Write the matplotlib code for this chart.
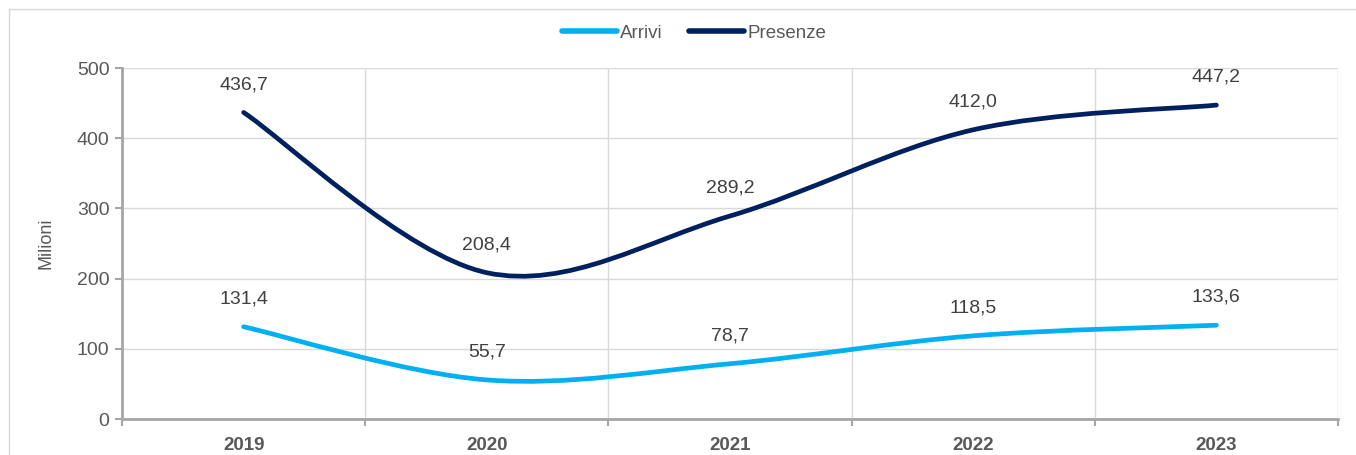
import matplotlib
matplotlib.use("Agg")
import matplotlib.pyplot as plt
from matplotlib.path import Path
from matplotlib.patches import PathPatch
from matplotlib.lines import Line2D
import numpy as np

plt.rcParams['font.family'] = ['Liberation Sans Narrow', 'Liberation Sans', 'DejaVu Sans']

YEARS = ['2019', '2020', '2021', '2022', '2023']
ARRIVI = [131.4, 55.7, 78.7, 118.5, 133.6]
PRESENZE = [436.7, 208.4, 289.2, 412.0, 447.2]
SERIES_NAMES = ['Arrivi', 'Presenze']
COLORS = ['#00B0F0', '#002060']


def smooth_path(xs, ys):
    # Excel-style smoothed line: cubic Bezier through the points
    pts = np.column_stack([xs, ys])
    n = len(pts)
    verts = [tuple(pts[0])]
    codes = [Path.MOVETO]
    for i in range(n - 1):
        p_prev = pts[max(i - 1, 0)]
        p0 = pts[i]
        p1 = pts[i + 1]
        p_next = pts[min(i + 2, n - 1)]
        c1 = p0 + (p1 - p_prev) / 6.0
        c2 = p1 - (p_next - p0) / 6.0
        verts += [tuple(c1), tuple(c2), tuple(p1)]
        codes += [Path.CURVE4] * 3
    return Path(verts, codes)


fig = plt.figure(figsize=(13.56, 4.55), dpi=100)
ax = fig.add_axes([0.0900, 0.0791, 0.8967, 0.7714])

x = np.arange(len(YEARS)) + 0.5
for vals, color in zip([ARRIVI, PRESENZE], COLORS):
    patch = PathPatch(smooth_path(x, vals), facecolor='none', edgecolor=color,
                      linewidth=3.4, capstyle='round', zorder=3)
    ax.add_patch(patch)
    for xi, v in zip(x, vals):
        ax.annotate(f"{v:.1f}".replace('.', ','), (xi, v), xytext=(0, 14),
                    textcoords='offset points', ha='center', va='bottom',
                    fontsize=14, color='#404040')

ax.set_xlim(0, len(YEARS))
ax.set_ylim(0, 500)
ax.set_yticks(range(0, 501, 100))
ax.set_xticks(range(len(YEARS) + 1))
ax.set_xticklabels([])
ax.set_xticks(x, minor=True)
ax.set_xticklabels(YEARS, minor=True, fontsize=13.5, fontweight='bold', color='#595959')
ax.tick_params(axis='x', which='minor', length=0, pad=13)
ax.tick_params(axis='x', which='major', length=5, width=1.5, color='#A6A6A6')
ax.tick_params(axis='y', length=5, width=1.5, color='#A6A6A6', labelsize=14,
               labelcolor='#595959', pad=4)
ax.grid(True, which='major', color='#D9D9D9', linewidth=1)
ax.set_axisbelow(True)
for side in ['top', 'right']:
    ax.spines[side].set_visible(False)
for side in ['left', 'bottom']:
    ax.spines[side].set_color('#A6A6A6')
    ax.spines[side].set_linewidth(2)
ax.set_ylabel('Milioni', fontsize=13, color='#595959', labelpad=16)

handles = [Line2D([], [], color=c, linewidth=4, solid_capstyle='round') for c in COLORS]
fig.legend(handles, SERIES_NAMES, loc='center', bbox_to_anchor=(0.512, 0.927), ncol=2,
           frameon=False, fontsize=13.5, labelcolor='#595959', handlelength=2.9,
           handletextpad=0.2, columnspacing=1.4)

# chart area border (left and top edges visible)
fig.add_artist(Line2D([8.5 / 1356, 8.5 / 1356], [0, 1 - 8.5 / 455], color='#D9D9D9', linewidth=1))
fig.add_artist(Line2D([8.5 / 1356, 1], [1 - 8.5 / 455, 1 - 8.5 / 455], color='#D9D9D9', linewidth=1))

fig.savefig('out.png', dpi=100)
